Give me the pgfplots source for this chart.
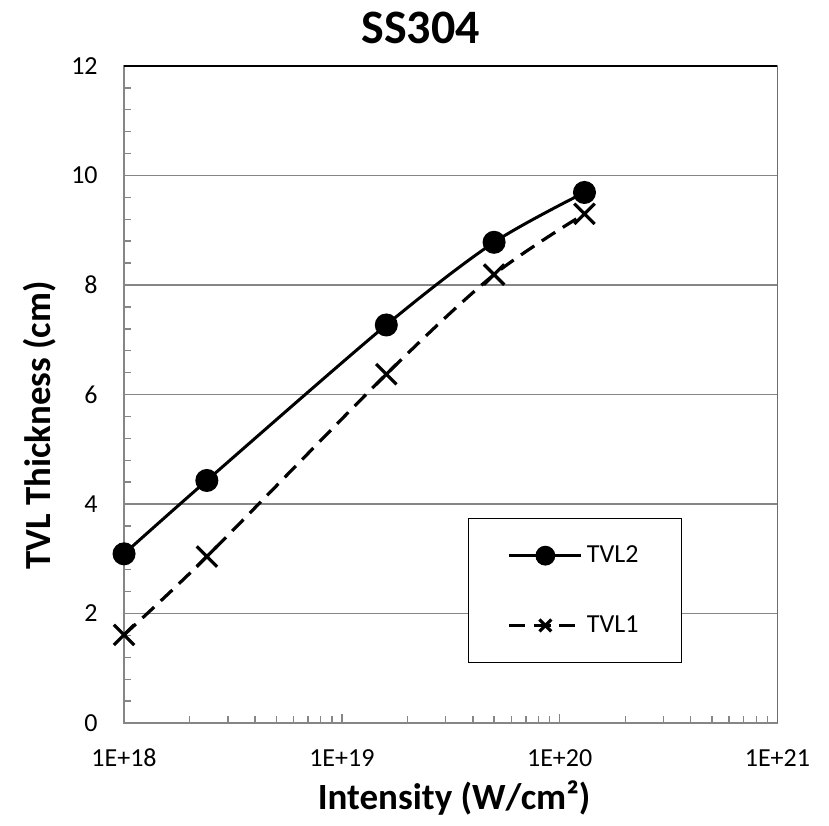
\documentclass[border=0pt]{standalone}
\usepackage{fontspec}
\setmainfont{Carlito}
\usepackage{pgfplots}
\pgfplotsset{compat=1.18}
\definecolor{axisgray}{RGB}{134,134,134}

\begin{document}
\begin{tikzpicture}
\useasboundingbox (-62pt,-51pt) rectangle (352.5pt,361.5pt);
\begin{axis}[
  at={(0,0)}, anchor=south west,
  scale only axis, width=326.7pt, height=328.5pt,
  xmode=log, xmin=1e18, xmax=1e21, ymin=0, ymax=12,
  xtick={1e18,1e19,1e20,1e21},
  xticklabels={1E+18,1E+19,1E+20,1E+21},
  minor xtick={2e18,3e18,4e18,5e18,6e18,7e18,8e18,9e18,
               2e19,3e19,4e19,5e19,6e19,7e19,8e19,9e19,
               2e20,3e20,4e20,5e20,6e20,7e20,8e20,9e20},
  ytick={0,2,...,12}, minor y tick num=4,
  xtick pos=bottom, ytick pos=left,
  tick align=inside, major tick length=4.5pt, minor tick length=3.5pt,
  tick style={axisgray, line width=0.7pt},
  axis line style={axisgray, line width=0.7pt},
  ymajorgrids, grid style={axisgray, line width=0.7pt},
  /pgf/number format/assume math mode=true,
  ticklabel style={font=\fontsize{13}{15}\selectfont, inner sep=0pt},
  xticklabel style={anchor=base, yshift=-21.5pt},
  yticklabel style={anchor=east, xshift=-13pt},
  title={SS304},
  title style={font=\bfseries\fontsize{24}{28}\selectfont,
    at={(axis description cs:0.454,1)}, anchor=base, yshift=5pt},
  xlabel={Intensity (W/cm²)},
  xlabel style={font=\bfseries\fontsize{18.5}{22}\selectfont,
    at={(axis description cs:0.505,-0.1324)}, anchor=base},
  ylabel={TVL Thickness (cm)},
  ylabel style={font=\bfseries\fontsize{18.4}{22}\selectfont,
    at={(axis description cs:-0.1133,0.453)}, rotate=0, anchor=base},
  legend style={at={(axis description cs:0.5265,0.0913)}, anchor=south west,
    draw=black, line width=0.7pt, inner xsep=19.5pt, inner ysep=11.5pt,
    row sep=21pt, font=\fontsize{13}{15}\selectfont, cells={anchor=west}},
  legend image code/.code={\draw[mark repeat=2,mark phase=2]
    plot coordinates {(0pt,0pt) (18pt,0pt) (36pt,0pt)};},
  legend image post style={mark size=4.2pt},
]
\addplot[black, line width=1.5pt, smooth, mark=*, mark size=5pt]
  coordinates {(1e18,3.09) (2.4e18,4.43) (1.6e19,7.27) (5e19,8.78) (1.3e20,9.69)};
\addlegendentry{TVL2}
\addplot[black, line width=1.6pt, smooth, dash pattern=on 8pt off 4.5pt,
  mark=x, mark size=7.2pt, mark options={solid}]
  coordinates {(1e18,1.61) (2.4e18,3.04) (1.6e19,6.37) (5e19,8.19) (1.3e20,9.3)};
\addlegendentry{TVL1}
\draw[black, line width=0.7pt] (rel axis cs:0,1) -- (rel axis cs:1,1);
\draw[black!75, line width=0.7pt] (rel axis cs:1,0) -- (rel axis cs:1,1);
\end{axis}
\end{tikzpicture}
\end{document}
